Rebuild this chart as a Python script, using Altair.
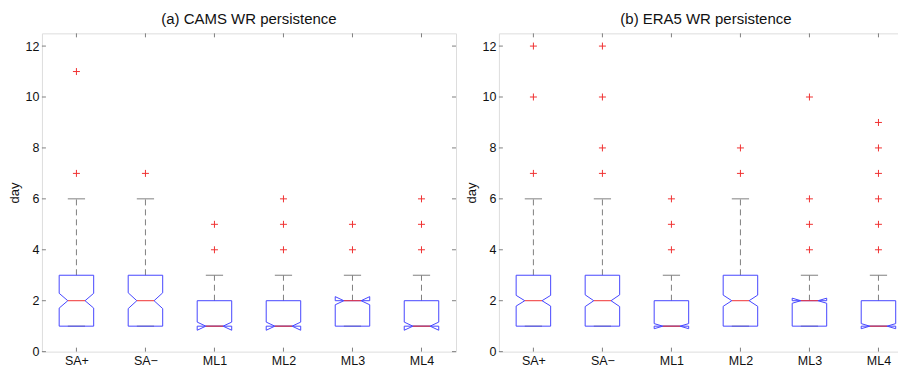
import altair as alt
import pandas as pd

cats = ["SA+", "SA−", "ML1", "ML2", "ML3", "ML4"]
ytick_vals = [0, 2, 4, 6, 8, 10, 12]

# (a) CAMS
cams_q1 = [1, 1, 1, 1, 1, 1]
cams_med = [2, 2, 1, 1, 2, 1]
cams_q3 = [3, 3, 2, 2, 2, 2]
cams_lo = [1, 1, 1, 1, 1, 1]
cams_hi = [6, 6, 3, 3, 3, 3]
cams_notch = [0.29, 0.31, 0.16, 0.16, 0.16, 0.16]
cams_out = [[7, 11], [7], [4, 5], [4, 5, 6], [4, 5], [4, 5, 6]]

# (b) ERA5
era_q1 = [1, 1, 1, 1, 1, 1]
era_med = [2, 2, 1, 2, 2, 1]
era_q3 = [3, 3, 2, 3, 2, 2]
era_lo = [1, 1, 1, 1, 1, 1]
era_hi = [6, 6, 3, 6, 3, 3]
era_notch = [0.21, 0.23, 0.10, 0.22, 0.10, 0.10]
era_out = [[7, 10, 12], [7, 8, 10, 12], [4, 5, 6], [7, 8], [4, 5, 6, 10], [4, 5, 6, 7, 8, 9]]

BOX_HALF = 0.25
NOTCH_HALF = 0.125
CAP_HALF = 0.125
W, H = 415, 319
FONT = "Liberation Sans"
BLUE = "#4646ff"
RED = "#f03232"
GREY = "#808080"

label_expr = "[" + ",".join("'%s'" % c for c in cats) + "][datum.value - 1]"

xs = alt.Scale(domain=[0.5, 6.5], nice=False, zero=False)
ys = alt.Scale(domain=[0, 12.5], nice=False, zero=False)
x_axis = alt.Axis(values=[1, 2, 3, 4, 5, 6], labelExpr=label_expr, ticks=False, domain=False,
                  grid=False, title=None, labelFontSize=12.5, labelFont=FONT, labelColor="#111",
                  labelPadding=3)
y_axis = alt.Axis(values=ytick_vals, ticks=False, domain=False, grid=False, title="day",
                  titleFontWeight="normal", titleFontSize=13, titleFont=FONT, titleColor="#111",
                  labelFontSize=12.5, labelFont=FONT, labelColor="#111", labelPadding=3,
                  titlePadding=3.5)


def X(field):
    return alt.X(field, type="quantitative", scale=xs, axis=x_axis)


def Y(field):
    return alt.Y(field, type="quantitative", scale=ys, axis=y_axis)


def panel(title, q1, med, q3, lo, hi, notch, outs):
    stats = pd.DataFrame({
        "c": list(range(1, len(cats) + 1)),
        "q1": q1, "med": med, "q3": q3, "lo": lo, "hi": hi, "n": notch,
    })
    stats["cl"] = stats["c"] - CAP_HALF
    stats["cr"] = stats["c"] + CAP_HALF
    stats["ml"] = stats["c"] - NOTCH_HALF
    stats["mr"] = stats["c"] + NOTCH_HALF

    poly = []
    for _, r in stats.iterrows():
        c = r["c"]
        nlo, nhi = r["med"] - r["n"], r["med"] + r["n"]
        xs_ = [c - BOX_HALF, c - BOX_HALF, c - NOTCH_HALF, c - BOX_HALF, c - BOX_HALF,
               c + BOX_HALF, c + BOX_HALF, c + NOTCH_HALF, c + BOX_HALF, c + BOX_HALF, c - BOX_HALF]
        ys_ = [r["q1"], nlo, r["med"], nhi, r["q3"], r["q3"], nhi, r["med"], nlo, r["q1"], r["q1"]]
        for k, (px, py) in enumerate(zip(xs_, ys_)):
            poly.append({"box": int(c), "k": k, "px": px, "py": py})
    poly = pd.DataFrame(poly)

    outl = pd.DataFrame([{"c": i + 1, "v": v} for i, vs in enumerate(outs) for v in vs])
    yt = pd.DataFrame({"v": ytick_vals})
    xt = pd.DataFrame({"c": list(range(1, len(cats) + 1))})

    base = alt.Chart(stats)
    whisk_hi = base.mark_rule(color=GREY, strokeDash=[6, 4], strokeWidth=1).encode(
        x=X("c"), y=Y("q3"), y2="hi")
    whisk_lo = base.mark_rule(color=GREY, strokeDash=[6, 4], strokeWidth=1).encode(
        x=X("c"), y=Y("lo"), y2="q1")
    cap_hi = base.mark_rule(color=GREY, strokeWidth=1).encode(x=X("cl"), x2="cr", y=Y("hi"))
    cap_lo = base.mark_rule(color=GREY, strokeWidth=1).encode(x=X("cl"), x2="cr", y=Y("lo"))
    box = alt.Chart(poly).mark_line(color=BLUE, strokeWidth=1).encode(
        x=X("px"), y=Y("py"), detail="box:N", order="k:Q")
    median = base.mark_rule(color=RED, strokeWidth=1).encode(x=X("ml"), x2="mr", y=Y("med"))
    outliers = alt.Chart(outl).mark_point(shape="M-1,0L1,0M0,-1L0,1", filled=False, size=49,
                                          stroke=RED, strokeWidth=1, opacity=1).encode(
        x=X("c"), y=Y("v"))
    tl = alt.Chart(yt).mark_rule(color=GREY).encode(x=alt.value(0), x2=alt.value(4), y=Y("v"))
    tr = alt.Chart(yt).mark_rule(color=GREY).encode(x=alt.value(W - 4), x2=alt.value(W), y=Y("v"))
    tt = alt.Chart(xt).mark_rule(color=GREY).encode(x=X("c"), y=alt.value(0), y2=alt.value(4))
    tb = alt.Chart(xt).mark_rule(color=GREY).encode(x=X("c"), y=alt.value(H - 4), y2=alt.value(H))

    return alt.layer(whisk_hi, whisk_lo, cap_hi, cap_lo, box, median, outliers, tl, tr, tt, tb).properties(
        width=W, height=H,
        title=alt.TitleParams(title, fontSize=15, font=FONT, fontWeight="normal", color="#111",
                              anchor="middle", offset=6),
    )


left = panel("(a) CAMS WR persistence", cams_q1, cams_med, cams_q3, cams_lo, cams_hi, cams_notch, cams_out)
right = panel("(b) ERA5 WR persistence", era_q1, era_med, era_q3, era_lo, era_hi, era_notch, era_out)

chart = alt.hconcat(left, right, spacing=8).properties(
    padding={"left": 0, "top": 3, "right": -16, "bottom": 0}
).configure_view(stroke=GREY, strokeWidth=1).configure(background="white")

chart.save("out.html", embed_options={"renderer": "svg", "actions": False})
